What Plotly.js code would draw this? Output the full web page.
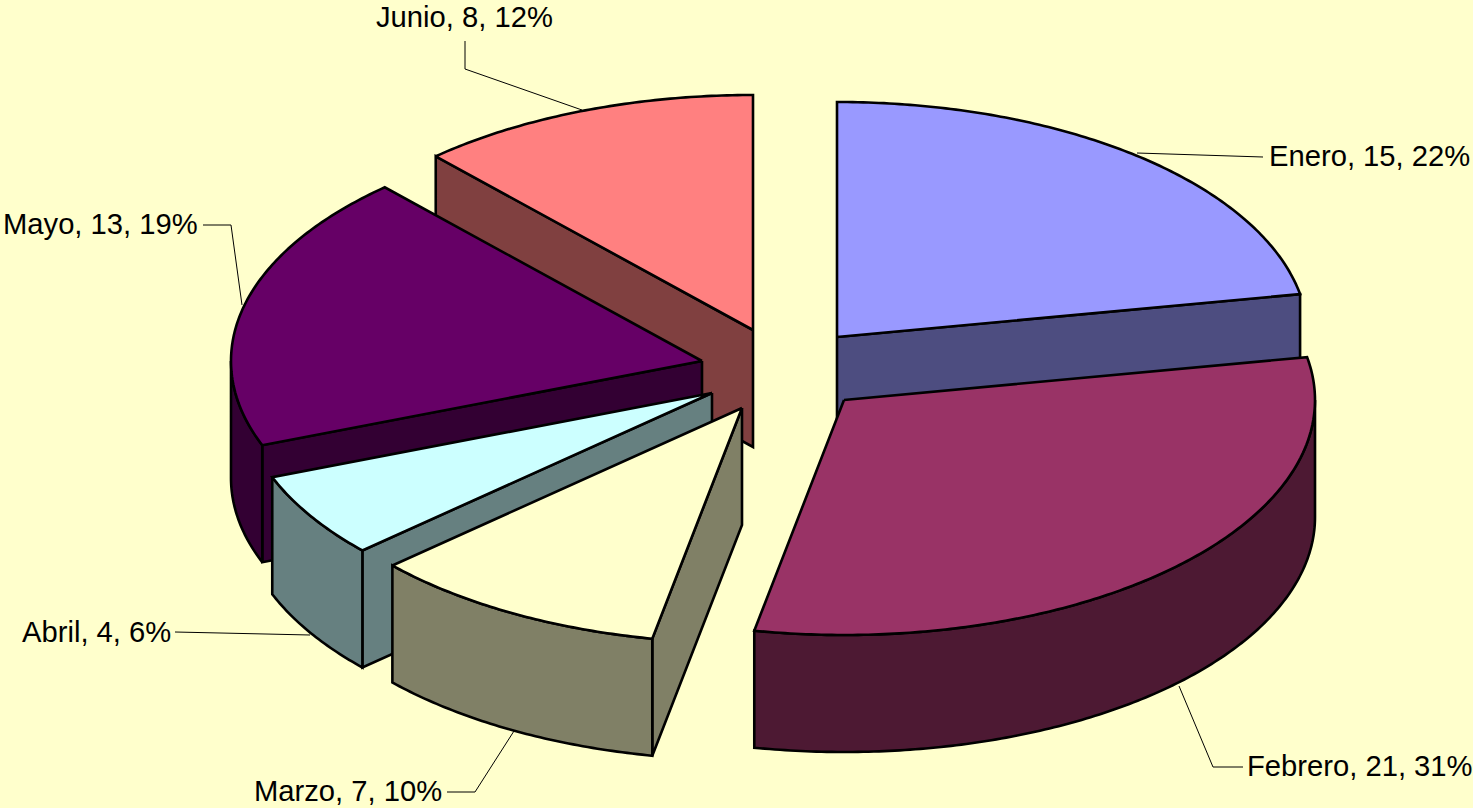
<!DOCTYPE html>
<html><head><meta charset="utf-8">
<script src="https://cdn.plot.ly/plotly-3.0.1.min.js"></script>
<style>html,body{margin:0;padding:0;background:#FFFFCC;overflow:hidden}#c{width:1473px;height:808px}</style>
</head><body><div id="c"></div>
<script>
// Data
const categories = ['Enero','Febrero','Marzo','Abril','Mayo','Junio'];
const values = [15,21,7,4,13,8];
const percents = [22,31,10,6,19,12];
// Styles
const topColors = ['#9999FF','#993366','#FFFFCC','#CCFFFF','#660066','#FF8080'];
const sideColors = ['#4D4D80','#4D1933','#808066','#668080','#330033','#804040'];
// Projection geometry of the 3D pie
const RX = 471, RY = 235, DEPTH = 117;
const hubX = [837,844,742,712,702,753];
const hubY = [337,400,408,393,361,330];
const drawOrder = [0,5,4,3,2,1];
const WARP = 0.4*Math.PI/180; // slight angular distortion of the 3D projection
// Leader lines and label anchors
const leaderX = [[1137,1263],[1179,1213,1243],[514,475,447],[310,175],[242,231,203],[582,465,465]];
const leaderY = [[153,157],[686,767,767],[731,792,792],[635,632],[305,225,225],[110,69,41]];
const labelX = [1269,1247,254,22,3,376];
const labelY = [159,769,794,635,227,20];

const total = values.reduce((a,b)=>a+b,0);
const cum = []; let run = 0;
values.forEach(v=>{cum.push(run); run+=v;});
const warp = a => a + WARP*Math.pow(Math.sin(a/2),4);
const traces = [];
function poly(xs,ys,color){
  traces.push({type:'scatter',mode:'lines',x:xs.concat(xs[0]),y:ys.concat(ys[0]),fill:'toself',fillcolor:color,
    line:{color:'#000',width:2.6,simplify:false},hoverinfo:'skip',showlegend:false});
}
function arc(i,a0,a1){
  const n = Math.max(2,Math.ceil(Math.abs(a1-a0)*90));
  const xs=[],ys=[];
  for(let k=0;k<=n;k++){const t=a0+(a1-a0)*k/n; xs.push(hubX[i]+RX*Math.sin(t)); ys.push(hubY[i]-RY*Math.cos(t));}
  return [xs,ys];
}
drawOrder.forEach(i=>{
  const a0 = warp(cum[i]/total*2*Math.PI), a1 = warp((cum[i]+values[i])/total*2*Math.PI);
  const hx=hubX[i],hy=hubY[i];
  // radial cut walls that face the viewer
  const faceStart = -Math.cos(a0-Math.PI/2), faceEnd = -Math.cos(a1+Math.PI/2);
  [[a0,faceStart],[a1,faceEnd]].forEach(([a,f])=>{
    if(f>1e-6){
      const ex=hx+RX*Math.sin(a), ey=hy-RY*Math.cos(a);
      poly([hx,ex,ex,hx],[hy,ey,ey+DEPTH,hy+DEPTH],sideColors[i]);
    }
  });
  // outer rim wall (only the front half of the ellipse is visible)
  const r0=Math.max(a0,Math.PI/2), r1=Math.min(a1,1.5*Math.PI);
  if(r1>r0){
    const [ax,ay]=arc(i,r0,r1);
    poly(ax.concat(ax.slice().reverse()),ay.concat(ay.slice().reverse().map(y=>y+DEPTH)),sideColors[i]);
  }
  // top face
  const [tx,ty]=arc(i,a0,a1);
  poly([hx].concat(tx),[hy].concat(ty),topColors[i]);
});
categories.forEach((c,i)=>{
  traces.push({type:'scatter',mode:'lines',x:leaderX[i],y:leaderY[i],line:{color:'#000',width:1},hoverinfo:'skip',showlegend:false});
});
traces.push({type:'scatter',mode:'text',x:labelX,y:labelY,
  text:categories.map((c,i)=>`${c}, ${values[i]}, ${percents[i]}%`),
  textposition:'middle right',textfont:{family:'Liberation Sans, Arial, sans-serif',size:29.2,color:'#000'},
  hoverinfo:'skip',showlegend:false,cliponaxis:false});
Plotly.newPlot('c',traces,{
  width:1473,height:808,margin:{l:0,r:0,t:0,b:0},
  paper_bgcolor:'#FFFFCC',plot_bgcolor:'#FFFFCC',showlegend:false,
  xaxis:{range:[0,1473],visible:false,fixedrange:true},
  yaxis:{range:[808,0],visible:false,fixedrange:true}
},{displayModeBar:false,staticPlot:true});
</script></body></html>
